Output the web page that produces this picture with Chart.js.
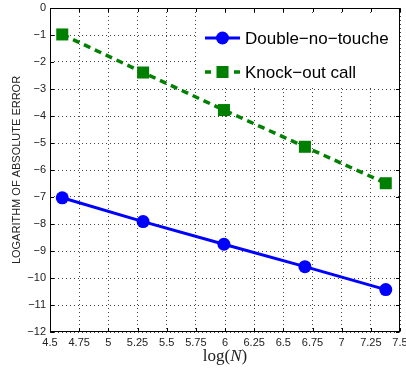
<!DOCTYPE html>
<html><head><meta charset="utf-8">
<script src="https://cdn.jsdelivr.net/npm/chart.js@4/dist/chart.umd.min.js"></script>
<style>html,body{margin:0;padding:0;background:#fff;}canvas{display:block;}</style>
</head><body>
<canvas id="c" width="406" height="370"></canvas>
<script>
// ---- data ----
const logN = [4.605, 5.298, 5.991, 6.685, 7.378];
const doubleNoTouche = [-7.03, -7.91, -8.75, -9.58, -10.43];
const knockOutCall = [-0.98, -2.39, -3.78, -5.14, -6.49];
const seriesNames = ['Double\u2212no\u2212touche', 'Knock\u2212out call'];
const xTicks = [4.5, 4.75, 5, 5.25, 5.5, 5.75, 6, 6.25, 6.5, 6.75, 7, 7.25, 7.5];
const xTickLabels = ['4.5','4.75','5','5.25','5.5','5.75','6','6.25','6.5','6.75','7','7.25','7.5'];
const yTicks = [-12, -11, -10, -9, -8, -7, -6, -5, -4, -3, -2, -1, 0];
const yTickLabels = ['\u221212','\u221211','\u221210','\u22129','\u22128','\u22127','\u22126','\u22125','\u22124','\u22123','\u22122','\u22121','0'];
const xTitle = ['log(', 'N', ')'];
const yTitle = 'LOGARITHM OF ABSOLUTE ERROR';

const SANS = '"Liberation Sans", Arial, sans-serif';
const SERIF = '"Liberation Serif", "Times New Roman", serif';

const framePlugin = {
  id: 'frame',
  afterDatasetsDraw(chart) {
    const {ctx, chartArea: a, scales} = chart;
    ctx.save();
    ctx.strokeStyle = '#000';
    ctx.lineWidth = 1;
    ctx.setLineDash([]);
    const L = Math.round(a.left) + 0.5, R = Math.round(a.right) - 0.5;
    const T = Math.round(a.top) + 0.5, B = Math.round(a.bottom) - 0.5;
    ctx.beginPath();
    const tl = 3.5;
    xTicks.forEach(v => {
      const x = Math.round(scales.x.getPixelForValue(v)) + 0.5;
      ctx.moveTo(x, B); ctx.lineTo(x, B - tl);
      ctx.moveTo(x, T); ctx.lineTo(x, T + tl);
    });
    yTicks.forEach(v => {
      const y = Math.round(scales.y.getPixelForValue(v)) + 0.5;
      ctx.moveTo(L, y); ctx.lineTo(L + tl, y);
      ctx.moveTo(R, y); ctx.lineTo(R - tl, y);
    });
    ctx.stroke();
    ctx.strokeRect(L, T, R - L, B - T);
    ctx.restore();
  }
};

const legendPlugin = {
  id: 'insideLegend',
  afterDraw(chart) {
    const {ctx, chartArea: a} = chart;
    ctx.save();
    ctx.fillStyle = '#fff';
    ctx.fillRect(197, 13, Math.round(a.right) - 1 - 197, 73);
    chart.data.datasets.forEach((ds, i) => {
      const y = 38 + i * 34;
      ctx.strokeStyle = ds.borderColor;
      ctx.lineWidth = ds.borderWidth;
      ctx.beginPath();
      if (ds.borderDash) {
        ctx.moveTo(205, y); ctx.lineTo(211, y);
        ctx.moveTo(234, y); ctx.lineTo(240, y);
      } else {
        ctx.moveTo(205, y); ctx.lineTo(240, y);
      }
      ctx.stroke();
      ctx.fillStyle = ds.pointBackgroundColor;
      ctx.strokeStyle = ds.pointBorderColor;
      ctx.lineWidth = ds.pointBorderWidth;
      Chart.helpers.drawPoint(ctx, {pointStyle: ds.pointStyle, radius: ds.pointRadius, borderWidth: ds.pointBorderWidth, rotation: 0}, 222.5, y);
      ctx.fillStyle = '#000';
      ctx.font = '17px ' + SANS;
      ctx.textBaseline = 'middle';
      ctx.textAlign = 'left';
      ctx.fillText(ds.label, 245, y + 1);
    });
    ctx.fillStyle = '#222';
    ctx.textBaseline = 'middle';
    ctx.textAlign = 'left';
    const f1 = '17px ' + SERIF, f2 = 'italic 17px ' + SERIF;
    ctx.font = f1; const w1 = ctx.measureText(xTitle[0]).width, w3 = ctx.measureText(xTitle[2]).width;
    ctx.font = f2; const w2 = ctx.measureText(xTitle[1]).width;
    let x = (a.left + a.right) / 2 - (w1 + w2 + w3) / 2;
    const ty = 357;
    ctx.font = f1; ctx.fillText(xTitle[0], x, ty); x += w1;
    ctx.font = f2; ctx.fillText(xTitle[1], x, ty); x += w2;
    ctx.font = f1; ctx.fillText(xTitle[2], x, ty);
    ctx.restore();
  }
};

new Chart(document.getElementById('c'), {
  type: 'line',
  data: {
    datasets: [
      {
        label: seriesNames[0],
        data: logN.map((v, i) => ({x: v, y: doubleNoTouche[i]})),
        borderColor: '#0000ff', backgroundColor: '#0000ff',
        borderWidth: 3,
        pointStyle: 'circle', pointRadius: 6.5,
        pointBackgroundColor: '#0000ff', pointBorderColor: '#0000ff', pointBorderWidth: 0,
        tension: 0, fill: false
      },
      {
        label: seriesNames[1],
        data: logN.map((v, i) => ({x: v, y: knockOutCall[i]})),
        borderColor: '#008000', backgroundColor: '#008000',
        borderWidth: 3.5, borderDash: [7, 5],
        pointStyle: 'rect', pointRadius: 8.5,
        pointBackgroundColor: '#008000', pointBorderColor: '#008000', pointBorderWidth: 0,
        tension: 0, fill: false
      }
    ]
  },
  options: {
    responsive: false,
    animation: false,
    events: [],
    layout: {autoPadding: false, padding: {top: 8, right: 6, left: 0, bottom: 0}},
    plugins: {legend: {display: false}, tooltip: {enabled: false}, title: {display: false}},
    scales: {
      x: {
        type: 'linear', min: 4.5, max: 7.5,
        afterBuildTicks: s => { s.ticks = xTicks.map(v => ({value: v})); },
        afterFit: s => { s.height = 38; s.paddingLeft = 0; s.paddingRight = 0; },
        grid: {color: '#444', lineWidth: 1, drawTicks: false},
        border: {display: false, dash: [1, 3]},
        ticks: {
          padding: 4, color: '#222', maxRotation: 0, autoSkip: false,
          font: {family: SANS, size: 11},
          callback: v => xTickLabels[xTicks.indexOf(v)]
        }
      },
      y: {
        type: 'linear', min: -12, max: 0,
        afterBuildTicks: s => { s.ticks = yTicks.map(v => ({value: v})); },
        afterFit: s => { s.width = 50; s.paddingTop = 0; s.paddingBottom = 0; },
        grid: {color: '#444', lineWidth: 1, drawTicks: false},
        border: {display: false, dash: [1, 3]},
        ticks: {
          padding: 4, color: '#222', autoSkip: false,
          font: {family: SANS, size: 11},
          callback: v => yTickLabels[yTicks.indexOf(v)]
        },
        title: {
          display: true, text: yTitle, color: '#222',
          font: {family: SANS, size: 11},
          padding: {top: 10, bottom: 0}
        }
      }
    }
  },
  plugins: [framePlugin, legendPlugin]
});
</script>
</body></html>
